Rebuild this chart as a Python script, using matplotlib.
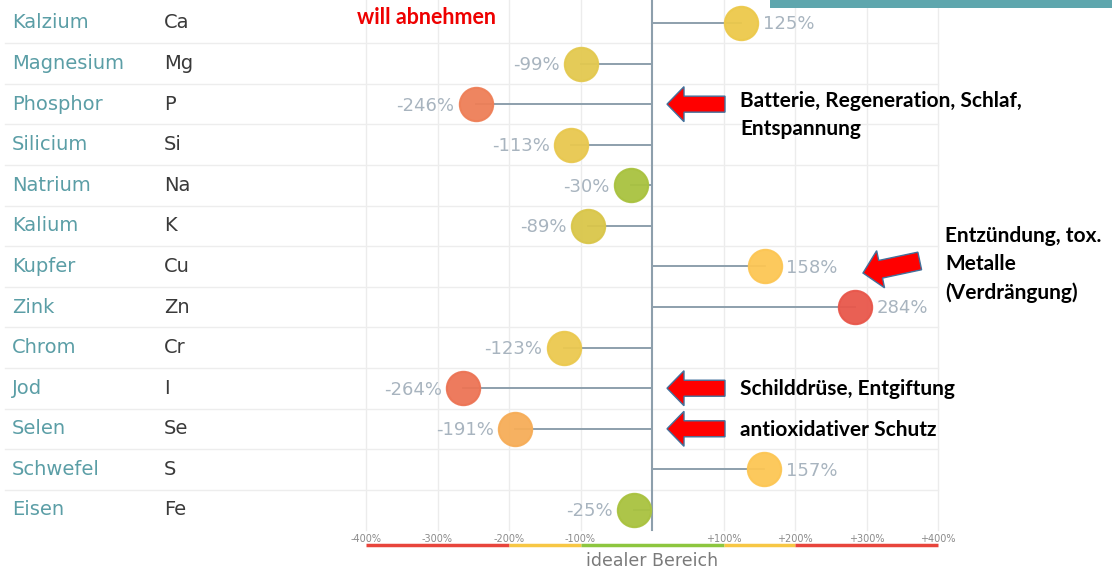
import matplotlib
matplotlib.use("Agg")
import matplotlib.pyplot as plt
from matplotlib.transforms import blended_transform_factory
from matplotlib.patches import Polygon, Rectangle
import numpy as np

# --- data -------------------------------------------------------------
names = ["Kalzium", "Magnesium", "Phosphor", "Silicium", "Natrium", "Kalium",
         "Kupfer", "Zink", "Chrom", "Jod", "Selen", "Schwefel", "Eisen"]
symbols = ["Ca", "Mg", "P", "Si", "Na", "K", "Cu", "Zn", "Cr", "I", "Se", "S", "Fe"]
values = [125, -99, -246, -113, -30, -89, 158, 284, -123, -264, -191, 157, -25]
dot_colors = ["#ecc94b", "#e3c94f", "#ee7f57", "#e8c84f", "#a9c23f", "#d9c64a",
              "#fcc654", "#e8574b", "#ebc94f", "#ec7455", "#f6ad58", "#fcc654",
              "#a9c23f"]
tick_values = [-400, -300, -200, -100, 100, 200, 300, 400]
tick_labels = ["-400%", "-300%", "-200%", "-100%", "+100%", "+200%", "+300%", "+400%"]
band_edges = [-400, -200, -100, 100, 200, 400]
band_colors = ["#e8453c", "#f7c744", "#8dc63f", "#f7c744", "#e8453c"]

notes = [
    (2, "Batterie, Regeneration, Schlaf,\nEntspannung"),
    (9, "Schilddrüse, Entgiftung"),
    (10, "antioxidativer Schutz"),
]
side_note = "Entzündung, tox.\nMetalle\n(Verdrängung)"

# --- figure -------------------------------------------------------------
W, H = 1112, 573
fig = plt.figure(figsize=(W / 100, H / 100), dpi=100)
ax = fig.add_axes([0, 0, 1, 1])
ax.set_axis_off()

px_per_pct = 0.715
x_zero = 652
row0, row_h = 23, 40.58
ax.set_xlim(-x_zero / px_per_pct, (W - x_zero) / px_per_pct)
ax.set_ylim((H - row0) / row_h, -row0 / row_h)

def fx(px):
    return px / W

def fy(py):
    return 1 - py / H

bx = blended_transform_factory(ax.transData, ax.transAxes)   # x data, y axes
by = blended_transform_factory(ax.transAxes, ax.transData)   # x axes, y data

n = len(values)
rows = np.arange(n)

# vertical grid
grid_bottom = fy(530)
for v in tick_values:
    ax.plot([v, v], [grid_bottom, 1], transform=bx, color="#ececec", lw=1, zorder=0)

# horizontal row separators
for r in rows[:-1]:
    ax.plot([fx(5), fx(938)], [r + 0.5, r + 0.5], transform=by,
            color="#ededed", lw=1, zorder=0)

# center line
ax.plot([0, 0], [grid_bottom, 1], transform=bx, color="#8d9fac", lw=1.5, zorder=1)

# stems and dots
for r, v, c in zip(rows, values, dot_colors):
    ax.plot([0, v], [r, r], color="#8d9fac", lw=1.4, zorder=2)
    ax.plot([v], [r], "o", ms=24, color=c, mec=c, mew=1.5, zorder=3, alpha=0.95)
    off = -15.5 if v < 0 else 15.5
    ax.annotate(f"{v}%", (v, r), xytext=(off, -1), textcoords="offset points",
                ha="right" if v < 0 else "left", va="center",
                fontsize=13, color="#a8b4bf", family="DejaVu Sans", zorder=4)

# row labels
for r, nm, sy in zip(rows, names, symbols):
    ax.text(fx(12), r, nm, transform=by, ha="left", va="center",
            fontsize=14, color="#5b9ea6", family="DejaVu Sans")
    ax.text(fx(164), r, sy, transform=by, ha="left", va="center",
            fontsize=14, color="#3a3a3a", family="DejaVu Sans")

# bottom scale
for v, lab in zip(tick_values, tick_labels):
    ax.text(v, fy(539), lab, transform=bx, ha="center", va="center",
            fontsize=7, color="#8a8a8a")
for a, b, c in zip(band_edges[:-1], band_edges[1:], band_colors):
    ax.plot([a, b], [fy(545), fy(545)], transform=bx, color=c, lw=2.5,
            solid_capstyle="butt")
ax.text(0, fy(561), "idealer Bereich", transform=bx, ha="center", va="center",
        fontsize=12.5, color="#7a7a7a", family="DejaVu Sans")

# red arrows
def arrow(tip_x, tip_y, length=58, head_len=17, head_h=35, body_h=16, angle=0.0):
    pts = np.array([
        [0, 0],
        [head_len, -head_h / 2],
        [head_len, -body_h / 2],
        [length, -body_h / 2],
        [length, body_h / 2],
        [head_len, body_h / 2],
        [head_len, head_h / 2],
    ])
    t = np.deg2rad(angle)
    rot = np.array([[np.cos(t), -np.sin(t)], [np.sin(t), np.cos(t)]])
    pts = pts @ rot.T + [tip_x, tip_y]
    fig_pts = np.column_stack([fx(pts[:, 0]), fy(pts[:, 1])])
    fig.patches.append(Polygon(fig_pts, closed=True, transform=fig.transFigure,
                               facecolor="#ff0000", edgecolor="#41719c", lw=1.0,
                               zorder=5))

note_font = dict(fontsize=15, fontweight="bold", color="black", family="Lato",
                 linespacing=1.5)
for r, txt in notes:
    y_px = row0 + r * row_h
    arrow(667, y_px)
    if "\n" in txt:
        ax.text(fx(740), fy(y_px - 13), txt, transform=ax.transAxes, ha="left",
                va="top", **note_font)
    else:
        ax.text(fx(740), fy(y_px + 1), txt, transform=ax.transAxes, ha="left",
                va="center", **note_font)

arrow(863, 273, length=58, head_len=18, head_h=38, body_h=18, angle=-12)
ax.text(fx(945), fy(226), side_note, transform=ax.transAxes, ha="left", va="top",
        **note_font)

# header remnants
ax.text(fx(357), fy(18), "will abnehmen", transform=ax.transAxes, ha="left",
        va="center", fontsize=15.5, fontweight="bold", color="#ee0000", family="Lato")
fig.patches.append(Rectangle((fx(770), fy(8)), fx(W - 770), fy(0) - fy(8),
                             transform=fig.transFigure, facecolor="#5ea6ad",
                             edgecolor="none", zorder=6))

fig.savefig("out.png", dpi=100)
